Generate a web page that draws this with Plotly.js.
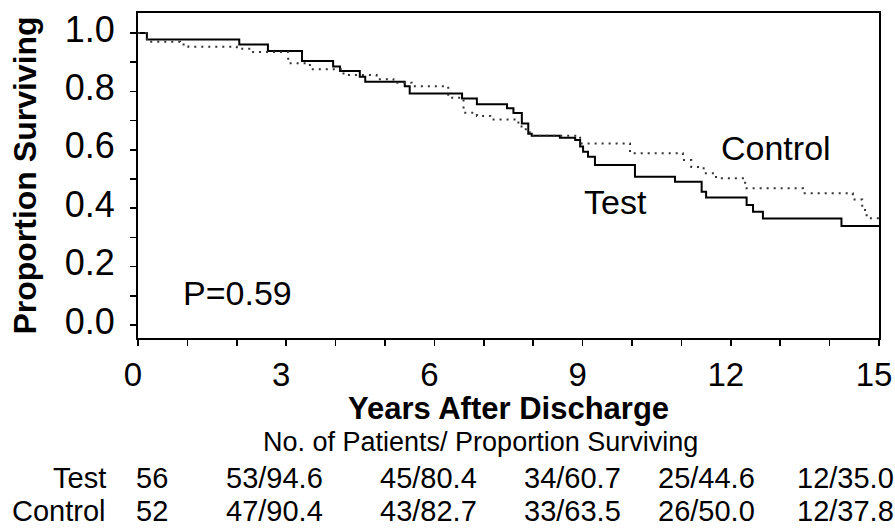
<!DOCTYPE html>
<html>
<head>
<meta charset="utf-8">
<script src="https://cdn.plot.ly/plotly-3.0.1.min.js"></script>
<style>html,body{margin:0;padding:0;background:#fff;}#chart{width:895px;height:531px;}</style>
</head>
<body>
<div id="chart"></div>
<script>
// Kaplan-Meier curves (years after discharge, proportion surviving)
const testYears = [0, 0.18, 2.05, 2.63, 3.32, 3.95, 4.09, 4.49, 4.6, 5.4, 5.5, 6.56, 6.86, 7.47, 7.6, 7.77, 7.9, 7.97, 8.54, 8.85, 8.95, 9.01, 9.11, 9.25, 10.06, 10.87, 11.41, 11.5, 12.32, 12.45, 12.65, 14.24, 15];
const testSurv  = [1.0, 0.978, 0.961, 0.938, 0.904, 0.885, 0.870, 0.85, 0.833, 0.818, 0.793, 0.776, 0.756, 0.742, 0.726, 0.69, 0.655, 0.648, 0.641, 0.634, 0.611, 0.593, 0.576, 0.548, 0.508, 0.491, 0.456, 0.437, 0.411, 0.388, 0.365, 0.339, 0.339];
const controlYears = [0, 0.18, 0.85, 1.02, 2.0, 2.33, 3.04, 3.48, 4.16, 4.83, 5.17, 5.54, 6.28, 6.59, 6.86, 7.13, 7.7, 7.85, 8.0, 8.95, 9.96, 11.03, 11.2, 11.45, 11.7, 12.29, 13.46, 14.47, 14.66, 14.75, 15];
const controlSurv  = [1.0, 0.970, 0.961, 0.953, 0.946, 0.935, 0.896, 0.876, 0.856, 0.842, 0.830, 0.818, 0.778, 0.727, 0.716, 0.704, 0.68, 0.66, 0.648, 0.622, 0.588, 0.565, 0.541, 0.52, 0.503, 0.468, 0.451, 0.43, 0.394, 0.366, 0.366];

// Axis titles and labels
const xTitle = "Years After Discharge";
const yTitle = "Proportion Surviving";
const pValueText = "P=0.59";

// Numbers-at-risk table
const tableTitle = "No. of Patients/ Proportion Surviving";
const rowLabels = ["Test", "Control"];
const testRow = ["56", "53/94.6", "45/80.4", "34/60.7", "25/44.6", "12/35.0"];
const controlRow = ["52", "47/90.4", "43/82.7", "33/63.5", "26/50.0", "12/37.8"];

// Layout geometry (pixels)
const W = 895, H = 531;
const M = {l: 138, r: 16, t: 13, b: 193};
const PW = W - M.l - M.r, PH = H - M.t - M.b;
const px2x = p => (p - M.l) / PW;
const py2y = p => (H - M.b - p) / PH;
const colCenters = [152, 274, 428, 572, 706, 845];
const rowCenters = [478, 511];
const FONT = "Liberation Sans, Arial, sans-serif";

const traces = [
  {x: testYears, y: testSurv, type: 'scatter', mode: 'lines', name: 'Test',
   line: {shape: 'hv', color: '#000', width: 2}},
  {x: controlYears, y: controlSurv, type: 'scatter', mode: 'lines', name: 'Control',
   line: {shape: 'hv', color: '#333', width: 2, dash: '2px,5px'}}
];

const ann = (x, y, text, size, extra) => Object.assign({x: x, y: y, text: text, showarrow: false,
  xanchor: 'center', yanchor: 'middle', font: {size: size, color: '#000'}}, extra || {});

const annotations = [
  ann(12.92, 0.606, 'Control', 34, {xref: 'x', yref: 'y'}),
  ann(9.66, 0.421, 'Test', 34, {xref: 'x', yref: 'y'}),
  ann(2.01, 0.108, pValueText, 34, {xref: 'x', yref: 'y'}),
  ann(px2x(508), py2y(408), '<b>' + xTitle + '</b>', 31, {xref: 'paper', yref: 'paper'}),
  ann(px2x(480), py2y(442), tableTitle, 27, {xref: 'paper', yref: 'paper'})
];
[testRow, controlRow].forEach((row, r) => {
  annotations.push(ann(px2x(108), py2y(rowCenters[r]), rowLabels[r], 29, {xref: 'paper', yref: 'paper', xanchor: 'right'}));
  row.forEach((t, c) => {
    annotations.push(ann(px2x(colCenters[c]), py2y(rowCenters[r]), t, 29, {xref: 'paper', yref: 'paper'}));
  });
});

const layout = {
  width: W, height: H,
  margin: M,
  paper_bgcolor: '#fff', plot_bgcolor: '#fff',
  showlegend: false,
  font: {family: FONT, color: '#000'},
  xaxis: {
    range: [0, 15], tick0: 0, dtick: 3, ticks: 'outside', ticklen: 6, tickwidth: 1.5, tickcolor: '#000',
    showline: true, linecolor: '#000', linewidth: 2, mirror: true, showgrid: false, zeroline: false,
    tickfont: {size: 33}, ticklabelstandoff: 0, ticklabelshift: -5, ticklabeloverflow: 'allow',
    minor: {dtick: 1, ticks: 'outside', ticklen: 6, tickcolor: '#000', showgrid: false}
  },
  yaxis: {
    range: [-0.0445, 1.0685], tick0: 0, dtick: 0.2, tickformat: '.1f', ticks: 'outside', ticklen: 6, tickwidth: 1.5, tickcolor: '#000',
    showline: true, linecolor: '#000', linewidth: 2, mirror: true, showgrid: false, zeroline: false,
    tickfont: {size: 36}, ticklabelstandoff: 8, ticklabelshift: -4,
    minor: {dtick: 0.1, ticks: 'outside', ticklen: 6, tickcolor: '#000', showgrid: false},
    title: {text: '<b>' + yTitle + '</b>', font: {size: 32}, standoff: 19}
  },
  annotations: annotations
};

Plotly.newPlot('chart', traces, layout, {displayModeBar: false, staticPlot: true});
</script>
</body>
</html>
